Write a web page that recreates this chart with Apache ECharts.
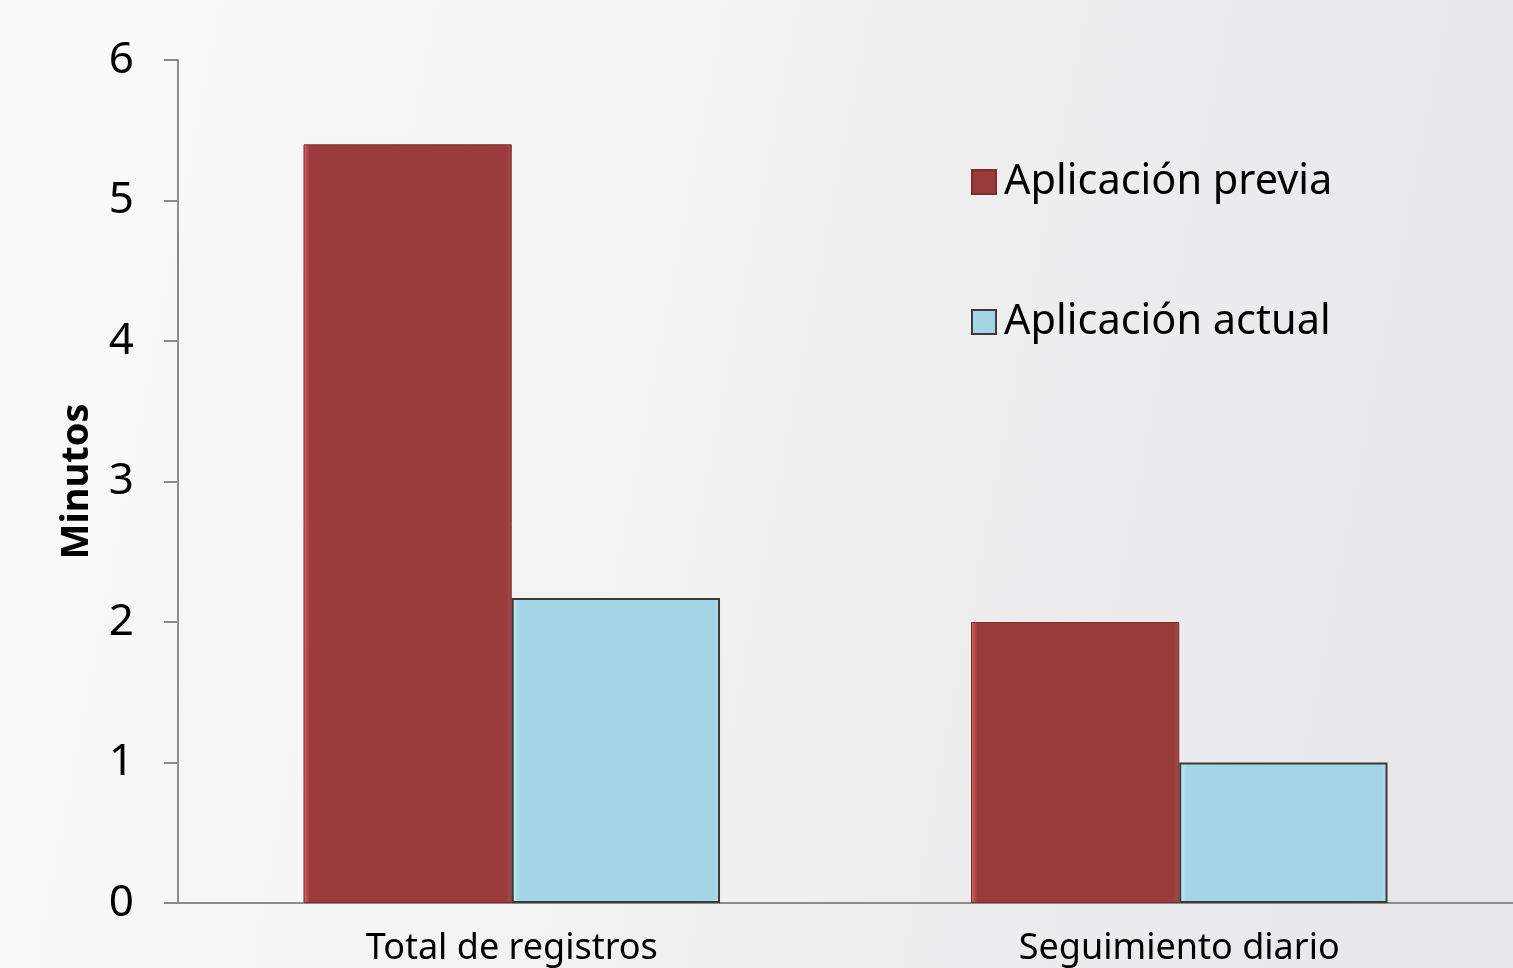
<!DOCTYPE html>
<html>
<head>
<meta charset="utf-8">
<script src="https://cdn.jsdelivr.net/npm/echarts@6/dist/echarts.min.js"></script>
<style>
  html, body { margin: 0; padding: 0; }
  #chart { width: 1513px; height: 968px; }
</style>
</head>
<body>
<div id="chart"></div>
<script>
var categories = ['Total de registros', 'Seguimiento diario'];
var previa = [5.4, 2.0];
var actual = [2.17, 1.0];
var yTicks = [0, 1, 2, 3, 4, 5, 6];

var chartDom = document.getElementById('chart');
var myChart = echarts.init(chartDom);
var font = 'Noto Sans';

var option = {
    animation: false,
    backgroundColor: {
        type: 'linear', x: 0, y: 0, x2: 1, y2: 0.3,
        colorStops: [
            {offset: 0, color: '#fbfbfb'},
            {offset: 1, color: '#e8e8ea'}
        ]
    },
    textStyle: {fontFamily: font},
    grid: {left: 178, right: -5, top: 60, bottom: 65},
    legend: {
        orient: 'vertical',
        left: 966,
        top: 156,
        icon: 'rect',
        itemWidth: 24,
        itemHeight: 24,
        itemGap: 98,
        textStyle: {fontSize: 41.5, color: '#000', fontFamily: font, padding: [0, 0, 0, 3]},
        data: ['Aplicación previa', 'Aplicación actual']
    },
    xAxis: {
        type: 'category',
        data: categories,
        axisLine: {lineStyle: {color: '#8c8c8c', width: 2}},
        axisTick: {show: false},
        axisLabel: {fontSize: 36, color: '#000', margin: 28}
    },
    yAxis: {
        type: 'value',
        min: 0,
        max: 6,
        interval: 1,
        name: 'Minutos',
        nameLocation: 'middle',
        nameGap: 82,
        nameTextStyle: {fontSize: 38, fontWeight: 'bold', color: '#000'},
        axisLine: {show: true, lineStyle: {color: '#8c8c8c', width: 2}},
        axisTick: {show: true, length: 14, lineStyle: {color: '#8c8c8c', width: 2}},
        axisLabel: {
            fontSize: 44, color: '#000', margin: 44,
            formatter: function (v) { return yTicks.indexOf(v) >= 0 ? String(v) : ''; }
        },
        splitLine: {show: false}
    },
    series: [
        {
            name: 'Aplicación previa',
            type: 'bar',
            data: previa,
            barGap: '0%',
            barCategoryGap: '37.6%',
            itemStyle: {
                color: {
                    type: 'linear', x: 0, y: 0, x2: 1, y2: 0,
                    colorStops: [
                        {offset: 0, color: '#d86565'},
                        {offset: 0.03, color: '#9b3a3c'},
                        {offset: 0.97, color: '#9a3b3c'},
                        {offset: 1, color: '#a54a4b'}
                    ]
                },
                borderColor: '#7d2d2e',
                borderWidth: 1
            }
        },
        {
            name: 'Aplicación actual',
            type: 'bar',
            data: actual,
            itemStyle: {
                color: {
                    type: 'linear', x: 0, y: 0, x2: 1, y2: 0,
                    colorStops: [
                        {offset: 0, color: '#d2f3fb'},
                        {offset: 0.03, color: '#a5d6e6'},
                        {offset: 0.97, color: '#a2d4e4'},
                        {offset: 1, color: '#b3e0ee'}
                    ]
                },
                borderColor: '#3b3b3b',
                borderWidth: 2
            }
        }
    ]
};

myChart.setOption(option);
</script>
</body>
</html>
